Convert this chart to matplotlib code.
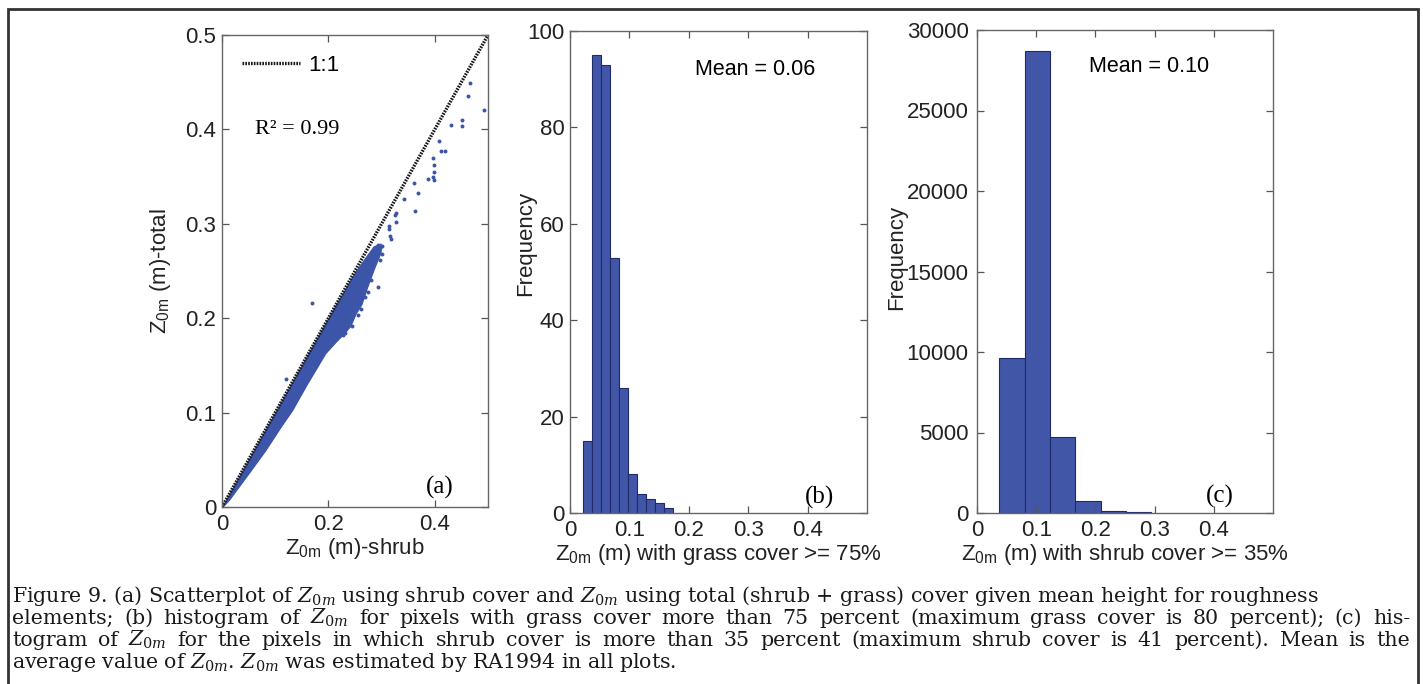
import numpy as np
import matplotlib
matplotlib.use("Agg")
import matplotlib.pyplot as plt
from matplotlib.patches import Rectangle

plt.rcParams['font.family'] = ['Liberation Sans', 'DejaVu Sans']
plt.rcParams['mathtext.fontset'] = 'custom'
plt.rcParams['mathtext.rm'] = 'DejaVu Serif'
plt.rcParams['mathtext.it'] = 'DejaVu Serif:italic'
plt.rcParams['mathtext.sf'] = 'Liberation Sans'

# ---- panel (a): Z0m shrub vs total ----
# dense cloud read off the picture as lower / upper envelope
band_x = [0.0, 0.0125, 0.05, 0.081, 0.11, 0.132, 0.16, 0.175, 0.194, 0.215, 0.229, 0.241, 0.251, 0.262, 0.272, 0.285, 0.298]
band_lo = [0.0, 0.0074, 0.036, 0.060, 0.085, 0.103, 0.131, 0.145, 0.163, 0.176, 0.184, 0.192, 0.205, 0.215, 0.232, 0.252, 0.270]
band_hi = [0.0, 0.0125, 0.05, 0.081, 0.11, 0.132, 0.16, 0.175, 0.194, 0.215, 0.228, 0.240, 0.249, 0.258, 0.266, 0.276, 0.279]
# isolated points
pts_x = [0.467, 0.463, 0.492, 0.451, 0.451, 0.431, 0.407, 0.412, 0.419, 0.397, 0.398, 0.399,
         0.397, 0.398, 0.387, 0.360, 0.368, 0.363, 0.342, 0.327, 0.325, 0.328, 0.314, 0.313,
         0.316, 0.317, 0.293, 0.169, 0.120, 0.294, 0.297, 0.288, 0.292, 0.297, 0.284,
         0.222, 0.231, 0.228, 0.245, 0.255, 0.262, 0.268, 0.275, 0.281, 0.30, 0.30]
pts_y = [0.449, 0.435, 0.421, 0.410, 0.404, 0.405, 0.388, 0.377, 0.377, 0.370, 0.362, 0.355,
         0.350, 0.346, 0.347, 0.343, 0.333, 0.314, 0.326, 0.311, 0.309, 0.302, 0.298, 0.294,
         0.287, 0.284, 0.233, 0.216, 0.136, 0.278, 0.274, 0.272, 0.265, 0.262, 0.258,
         0.1875, 0.184, 0.182, 0.192, 0.203, 0.210, 0.222, 0.228, 0.240, 0.268, 0.276]
one_to_one = [0.0, 0.5]
r2_text = 'R² = 0.99'

# ---- panel (b): grass cover >= 75% ----
grass_edges = [0.0222, 0.0374, 0.0526, 0.0678, 0.0830, 0.0982, 0.1134, 0.1286, 0.1438, 0.1590, 0.1742]
grass_counts = [15, 95, 93, 53, 26, 8, 4, 3, 2, 1]

# ---- panel (c): shrub cover >= 35% ----
shrub_edges = [0.0377, 0.0805, 0.1232, 0.1660, 0.2087, 0.2515, 0.2942]
shrub_counts = [9600, 28700, 4700, 750, 150, 40]

xt_a = [0, 0.2, 0.4]
xt_a_lab = ['0', '0.2', '0.4']
yt_a = [0, 0.1, 0.2, 0.3, 0.4, 0.5]
yt_a_lab = ['0', '0.1', '0.2', '0.3', '0.4', '0.5']
xt_h = [0, 0.1, 0.2, 0.3, 0.4]
xt_h_lab = ['0', '0.1', '0.2', '0.3', '0.4']
yt_b = [0, 20, 40, 60, 80, 100]
yt_c = [0, 5000, 10000, 15000, 20000, 25000, 30000]

caption = [
    r'Figure 9. (a) Scatterplot of $Z_{0m}$ using shrub cover and $Z_{0m}$ using total (shrub + grass) cover given mean height for roughness',
    r'elements; (b) histogram of  $Z_{0m}$ for pixels with grass cover more than 75 percent (maximum grass cover is 80 percent); (c) his-',
    r'togram of  $Z_{0m}$ for the pixels in which shrub cover is more than 35 percent (maximum shrub cover is 41 percent). Mean is the',
    r'average value of $Z_{0m}$. $Z_{0m}$ was estimated by RA1994 in all plots.',
]
justify = [False, True, True, False]

BLUE = '#3d55a8'
BAR = '#4256a8'
EDGE = '#1f2a6a'
FS = 16
TXT = '#222222'

W, H = 1423, 684
fig = plt.figure(figsize=(W / 100, H / 100), dpi=100)


def px_axes(l, t, r, b):
    return fig.add_axes([l / W, 1 - b / H, (r - l) / W, (b - t) / H])


def style(ax):
    for s in ax.spines.values():
        s.set_color('#666666')
        s.set_linewidth(1.0)
    ax.tick_params(direction='in', top=True, right=True, length=5, width=0.9,
                   color='#555555', labelsize=FS, labelcolor=TXT)
    ax.tick_params(axis='x', pad=5)
    ax.tick_params(axis='y', pad=4)


# (a)
ax1 = px_axes(222, 35, 488, 507)
ax1.fill_between(band_x, band_lo, band_hi, color=BLUE, lw=1.0, ec=BLUE)
ax1.scatter(pts_x, pts_y, s=8, color=BLUE, lw=0)
ax1.plot(one_to_one, one_to_one, color='#1a1a1a', lw=2.4, ls=(0, (0.5, 0.35)), label='1:1')
ax1.set_xlim(0, 0.5)
ax1.set_ylim(0, 0.5)
ax1.set_xticks(xt_a, xt_a_lab)
ax1.set_yticks(yt_a, yt_a_lab)
style(ax1)
ax1.set_xlabel(r'$\mathsf{Z_{0m}}$ (m)-shrub', fontsize=FS, color=TXT, labelpad=1)
ax1.set_ylabel(r'$\mathsf{Z_{0m}}$ (m)-total', fontsize=FS, color=TXT, labelpad=9)
ax1.legend(loc='upper left', frameon=False, fontsize=FS, handlelength=2.6,
           handletextpad=0.4, borderaxespad=0.5)
ax1.text(0.062, 0.40, r2_text, fontsize=16, family='Liberation Serif', va='center')
ax1.text(0.41, 0.021, '(a)', fontsize=18, family='Liberation Serif', ha='center', va='center')

# (b)
ax2 = px_axes(570, 31, 867, 513)
ax2.bar(grass_edges[:-1], grass_counts, width=np.diff(grass_edges), align='edge',
        color=BAR, edgecolor=EDGE, lw=0.8)
ax2.set_xlim(0, 0.5)
ax2.set_ylim(0, 100)
ax2.set_xticks(xt_h, xt_h_lab)
ax2.set_yticks(yt_b)
style(ax2)
ax2.set_xlabel(r'$\mathsf{Z_{0m}}$ (m) with grass cover >= 75%', fontsize=FS, color=TXT, labelpad=1)
ax2.set_ylabel('Frequency', fontsize=FS, color=TXT)
ax2.yaxis.set_label_coords(-0.115, 0.56)
ax2.text(0.21, 92, 'Mean = 0.06', fontsize=15.5, va='center')
ax2.text(0.42, 3.3, '(b)', fontsize=18, family='Liberation Serif', ha='center', va='center')

# (c)
ax3 = px_axes(977, 30, 1273, 513)
ax3.bar(shrub_edges[:-1], shrub_counts, width=np.diff(shrub_edges), align='edge',
        color=BAR, edgecolor=EDGE, lw=0.8)
ax3.set_xlim(0, 0.5)
ax3.set_ylim(0, 30000)
ax3.set_xticks(xt_h, xt_h_lab)
ax3.set_yticks(yt_c)
style(ax3)
ax3.tick_params(axis='y', pad=6)
ax3.set_xlabel(r'$\mathsf{Z_{0m}}$ (m) with shrub cover >= 35%', fontsize=FS, color=TXT, labelpad=1)
ax3.set_ylabel('Frequency', fontsize=FS, color=TXT)
ax3.yaxis.set_label_coords(-0.235, 0.53)
ax3.text(0.189, 27760, 'Mean = 0.10', fontsize=15.5, va='center')
ax3.text(0.41, 1000, '(c)', fontsize=18, family='Liberation Serif', ha='center', va='center')

# outer frame
fig.patches.append(Rectangle((8 / W, -0.02), (1418 - 8) / W, 1 - 9 / H + 0.02,
                             transform=fig.transFigure, fill=False, lw=2, ec='#333333'))

# caption (lines 2-3 justified like the print layout)
cap_fs = 14.8
left, right = 12, 1410
renderer = fig.canvas.get_renderer()
for i, line in enumerate(caption):
    y = 1 - (602 + 22 * i) / H
    kw = dict(fontsize=cap_fs, family='DejaVu Serif', va='baseline', ha='left', color='#1a1a1a')
    if not justify[i]:
        fig.text(left / W, y, line, **kw)
        continue
    words = line.replace('  ', ' ').split(' ')
    arts = [fig.text(0, y, w, **kw) for w in words]
    widths = [a.get_window_extent(renderer).width for a in arts]
    gap = (right - left - sum(widths)) / (len(words) - 1)
    x = left
    for a, wd in zip(arts, widths):
        a.set_x(x / W)
        x += wd + gap

fig.savefig('out.png', dpi=100)
